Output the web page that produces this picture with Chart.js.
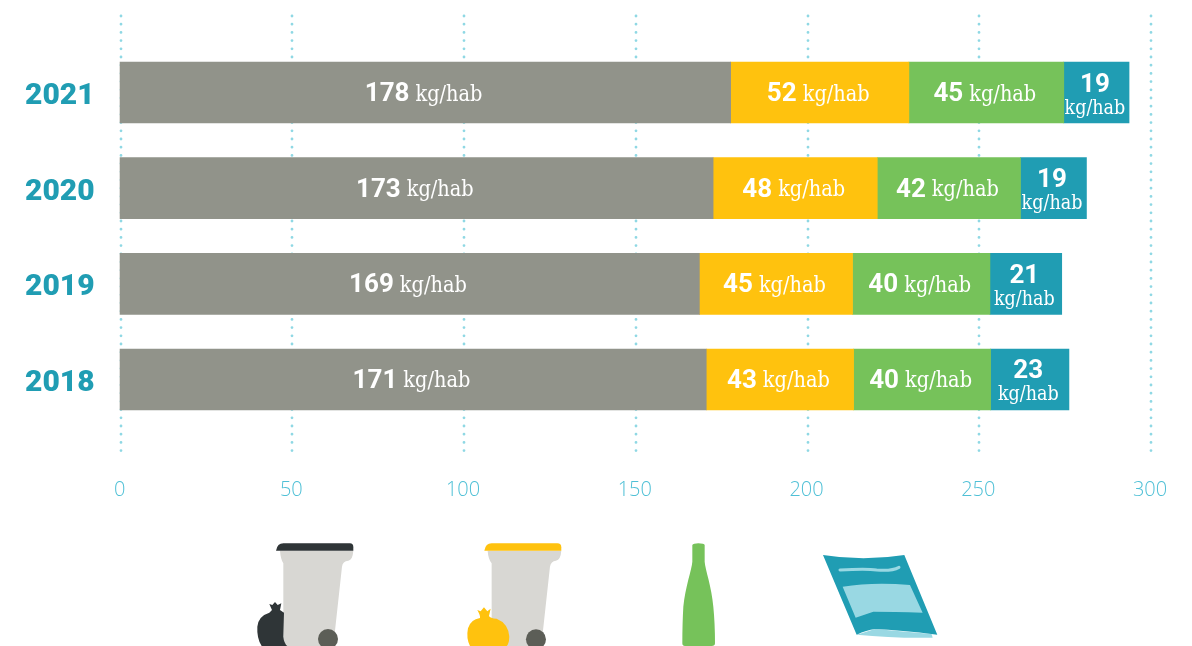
<!DOCTYPE html>
<html>
<head>
<meta charset="utf-8">
<title>kg/hab</title>
<script src="https://cdn.jsdelivr.net/npm/chart.js@4"></script>
<style>
    html, body { margin: 0; padding: 0; background: #fff; overflow: hidden; }
    #wrap { position: relative; width: 1192px; height: 646px; }
    #wasteChart { position: absolute; left: 0; top: 0; }
    #icons { position: absolute; left: 0; top: 0; }
</style>
</head>
<body>
<div id="wrap">
    <canvas id="wasteChart" width="1192" height="646"></canvas>
    <!-- decorative pictograms under the axis, traced in 3x crop coordinates -->
    <svg id="icons" width="1192" height="646" viewBox="0 0 1192 646">
        <g transform="translate(240,530) scale(0.3333)">
            <path d="M120 62 Q122 88 130 100 L130 348 H280 L306 110 Q308 93 325 92 Q338 90 340 62 Z" fill="#d8d7d3"/>
            <path d="M108 62 Q112 40 130 40 H330 Q340 40 340 52 V62 Z" fill="#2f3537"/>
            <path d="M88 222 L97 225 L105 216 L113 225 L124 220 L120 240 L132 248 L130 320 Q132 340 142 348 H65 Q50 325 52 290 Q55 258 88 248 L96 240 Z" fill="#2f3537"/>
            <circle cx="264" cy="327" r="30" fill="#5c5e57"/>
            <path d="M743 62 Q745 88 755 100 L755 348 H904 L930 110 Q933 93 948 92 Q962 90 964 62 Z" fill="#d8d7d3"/>
            <path d="M733 62 Q737 40 755 40 H952 Q964 40 964 52 V62 Z" fill="#ffc20e"/>
            <path d="M712 240 L722 244 L732 232 L742 244 L752 236 L747 258 Q750 265 770 266 Q805 280 808 320 Q808 340 800 348 H690 Q678 325 684 295 Q692 268 720 264 Q722 258 712 240 Z" fill="#ffc20e"/>
            <circle cx="888" cy="328" r="30" fill="#5c5e57"/>
        </g>
        <g transform="translate(660,530) scale(0.3333)">
            <path d="M97 45 Q100 40 115 40 Q133 40 134 45 L134 95 C136 120 155 170 160 230 Q165 280 165 340 Q165 348 155 348 H75 Q67 348 67 340 Q67 280 70 230 C76 170 95 120 97 95 Z" fill="#76c25a"/>
            <path d="M590 314 L645 297 L815 312 L818 323 Q700 325 590 314 Z" fill="#99d8e3"/>
            <path d="M489 75 Q610 95 733 75 L832 314 Q720 300 645 297 Q620 300 590 314 Z" fill="#209db3"/>
            <path d="M548 170 Q640 155 750 165 L788 248 Q700 245 640 245 L587 263 Z" fill="#99d8e3"/>
            <path d="M540 120 Q620 116 650 120 Q695 124 717 112" fill="none" stroke="#99d8e3" stroke-width="9" stroke-linecap="round"/>
        </g>
    </svg>
</div>

<script>
// ========= values (segment edges), labels show them rounded =========
const years      = ["2021", "2020", "2019", "2018"];
const residual   = [177.9, 172.8, 168.8, 170.8];
const packaging  = [51.9, 47.8, 44.6, 42.9];
const glass      = [45.1, 41.7, 40, 39.9];
const paper      = [19, 19.2, 20.9, 22.8];
const xTicks     = [0, 50, 100, 150, 200, 250, 300];
const unitLabel  = "kg/hab";

const GREY   = "#91938a";
const YELLOW = "#ffc20e";
const GREEN  = "#76c25a";
const TEAL   = "#209db3";

const SLAB = '"DejaVu Serif Condensed", "DejaVu Serif", serif';
const DIGITS = 'Roboto, sans-serif';

// dotted vertical guides, they run past the plot area top and bottom
const dottedGrid = {
    id: "dottedGrid",
    beforeDatasetsDraw(chart) {
        const ctx = chart.ctx;
        const x = chart.scales.x;
        ctx.save();
        ctx.strokeStyle = "#8fd8e4";
        ctx.lineWidth = 2.8;
        ctx.lineCap = "round";
        ctx.setLineDash([0, 8.2]);
        for (const t of xTicks) {
            const px = Math.round(x.getPixelForValue(t)) + 1;
            ctx.beginPath();
            ctx.moveTo(px, 16);
            ctx.lineTo(px, 457);
            ctx.stroke();
        }
        ctx.restore();
    }
};

// "178 kg/hab" inside each segment, the last one is stacked on two lines
const segmentLabels = {
    id: "segmentLabels",
    afterDatasetsDraw(chart) {
        const ctx = chart.ctx;
        const boldFont = "bold 26px " + DIGITS;
        const unitFont = "21.5px " + SLAB;
        const smallFont = "19.5px " + SLAB;
        ctx.save();
        ctx.fillStyle = "#fff";
        ctx.textBaseline = "alphabetic";
        chart.data.datasets.forEach((ds, d) => {
            chart.getDatasetMeta(d).data.forEach((bar, i) => {
                const p = bar.getProps(["x", "y", "base"], true);
                const cx = (p.x + p.base) / 2 - 1.5;
                const value = String(Math.round(ds.data[i]));
                if (d === 3) {
                    ctx.textAlign = "center";
                    ctx.font = boldFont;
                    ctx.fillText(value, cx, p.y - 1);
                    ctx.font = smallFont;
                    ctx.fillText(unitLabel, cx, p.y + 21);
                } else {
                    ctx.font = boldFont;
                    const w1 = ctx.measureText(value).width;
                    ctx.font = unitFont;
                    const w2 = ctx.measureText(unitLabel).width;
                    const gap = 6;
                    const start = cx - (w1 + gap + w2) / 2;
                    ctx.textAlign = "left";
                    ctx.font = boldFont;
                    ctx.fillText(value, start, p.y + 8.5);
                    ctx.font = unitFont;
                    ctx.fillText(unitLabel, start + w1 + gap, p.y + 8);
                }
            });
        });
        ctx.restore();
    }
};

document.addEventListener("DOMContentLoaded", () => {
    const ctx = document.getElementById("wasteChart");

    new Chart(ctx, {
        type: "bar",
        data: {
            labels: years,
            datasets: [
                { label: "Residual", data: residual, backgroundColor: GREY },
                { label: "Packaging", data: packaging, backgroundColor: YELLOW },
                { label: "Glass", data: glass, backgroundColor: GREEN },
                { label: "Paper", data: paper, backgroundColor: TEAL }
            ]
        },
        options: {
            indexAxis: "y",
            responsive: false,
            animation: false,
            layout: { padding: { left: 25, right: 42, top: 44.7, bottom: 0 } },
            plugins: { legend: { display: false }, tooltip: { enabled: false } },
            datasets: { bar: { barThickness: 61 } },
            scales: {
                x: {
                    stacked: true,
                    min: 0,
                    max: 300,
                    grid: { display: false },
                    border: { display: false },
                    afterFit: (axis) => {
                        axis.height = 218.7;
                        axis.paddingLeft = 0;
                        axis.paddingRight = 0;
                    },
                    afterBuildTicks: (axis) => { axis.ticks = xTicks.map((v) => ({ value: v })); },
                    ticks: {
                        padding: 43,
                        maxRotation: 0,
                        color: "#4fc0d6",
                        font: { family: '"Open Sans"', size: 20, weight: "300" }
                    }
                },
                y: {
                    stacked: true,
                    grid: { display: false },
                    border: { display: false },
                    afterFit: (axis) => { axis.width = 94.6; },
                    ticks: {
                        crossAlign: "far",
                        labelOffset: 4,
                        color: TEAL,
                        font: { family: DIGITS, size: 30, weight: "900" }
                    }
                }
            }
        },
        plugins: [dottedGrid, segmentLabels]
    });
});
</script>
</body>
</html>
